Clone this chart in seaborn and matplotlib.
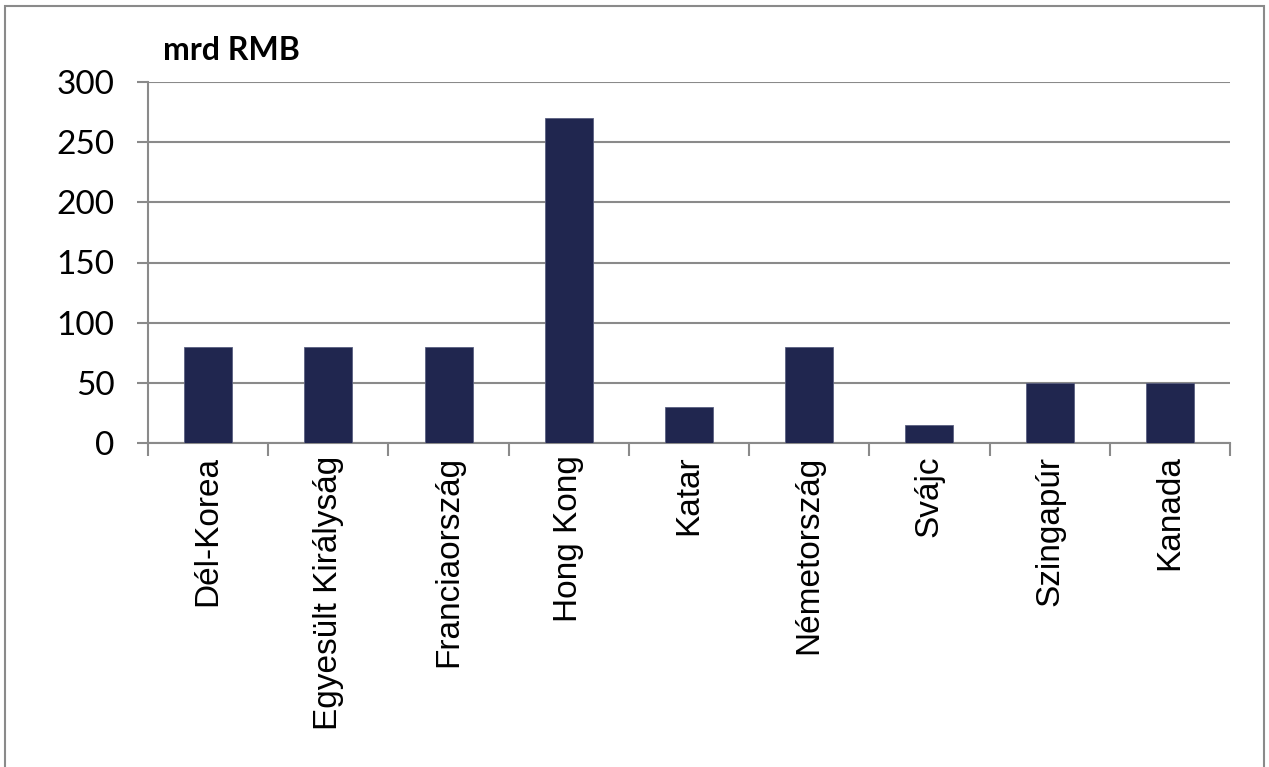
import matplotlib
matplotlib.use("Agg")
import matplotlib.pyplot as plt
import seaborn as sns
import pandas as pd
from matplotlib.patches import Rectangle
from matplotlib.ticker import FixedLocator

categories = ["Dél-Korea", "Egyesült Királyság", "Franciaország", "Hong Kong", "Katar",
              "Németország", "Svájc", "Szingapúr", "Kanada"]
values = [80, 80, 80, 270, 30, 80, 15, 50, 50]
yticks = [0, 50, 100, 150, 200, 250, 300]

df = pd.DataFrame({"country": categories, "value": values})

sns.set_theme(style="white")
plt.rcParams['font.family'] = ['Lato', 'DejaVu Sans']

fig = plt.figure(figsize=(12.69, 7.67), dpi=100)
ax = fig.add_axes([148/1269, 1-443/767, (1230-148)/1269, (443-82)/767])

sns.barplot(data=df, x="country", y="value", color="#20264F", width=0.4,
            saturation=1, ax=ax, edgecolor="#5a5f80", linewidth=0.6, zorder=3)

ax.set_xlim(-0.5, len(categories) - 0.5)
ax.set_ylim(0, 300)
ax.set_yticks(yticks)
ax.set_yticklabels([str(t) for t in yticks], fontsize=24, color="black", family="Lato")
ax.yaxis.grid(True, color="#8a8a8a", linewidth=1.5, zorder=0)
ax.set_axisbelow(True)

ax.set_xticks(range(len(categories)))
ax.set_xticklabels(categories, rotation=90, fontsize=24, family="Liberation Sans", color="black")
ax.tick_params(axis="x", which="major", length=0, pad=9)
ax.xaxis.set_minor_locator(FixedLocator([i - 0.5 for i in range(len(categories) + 1)]))
ax.tick_params(axis="x", which="minor", length=9, width=1.5, color="#8a8a8a", bottom=True)
ax.tick_params(axis="y", which="major", length=8, width=1.5, color="#8a8a8a", left=True, pad=16)

for s in ["top", "right"]:
    ax.spines[s].set_visible(False)
for s in ["left", "bottom"]:
    ax.spines[s].set_color("#8a8a8a")
    ax.spines[s].set_linewidth(1.5)

ax.set_xlabel("")
ax.set_ylabel("")

fig.text(163/1269, 1-51/767, "mrd RMB", fontsize=23, fontweight="bold", family="Lato",
         va="center", ha="left", color="black")

fig.patches.append(Rectangle((5/1269, -0.05), (1264-5)/1269, 1.05 - 6/767,
                             transform=fig.transFigure, fill=False,
                             edgecolor="#8a8a8a", linewidth=1.5))

fig.savefig("out.png", dpi=100)
